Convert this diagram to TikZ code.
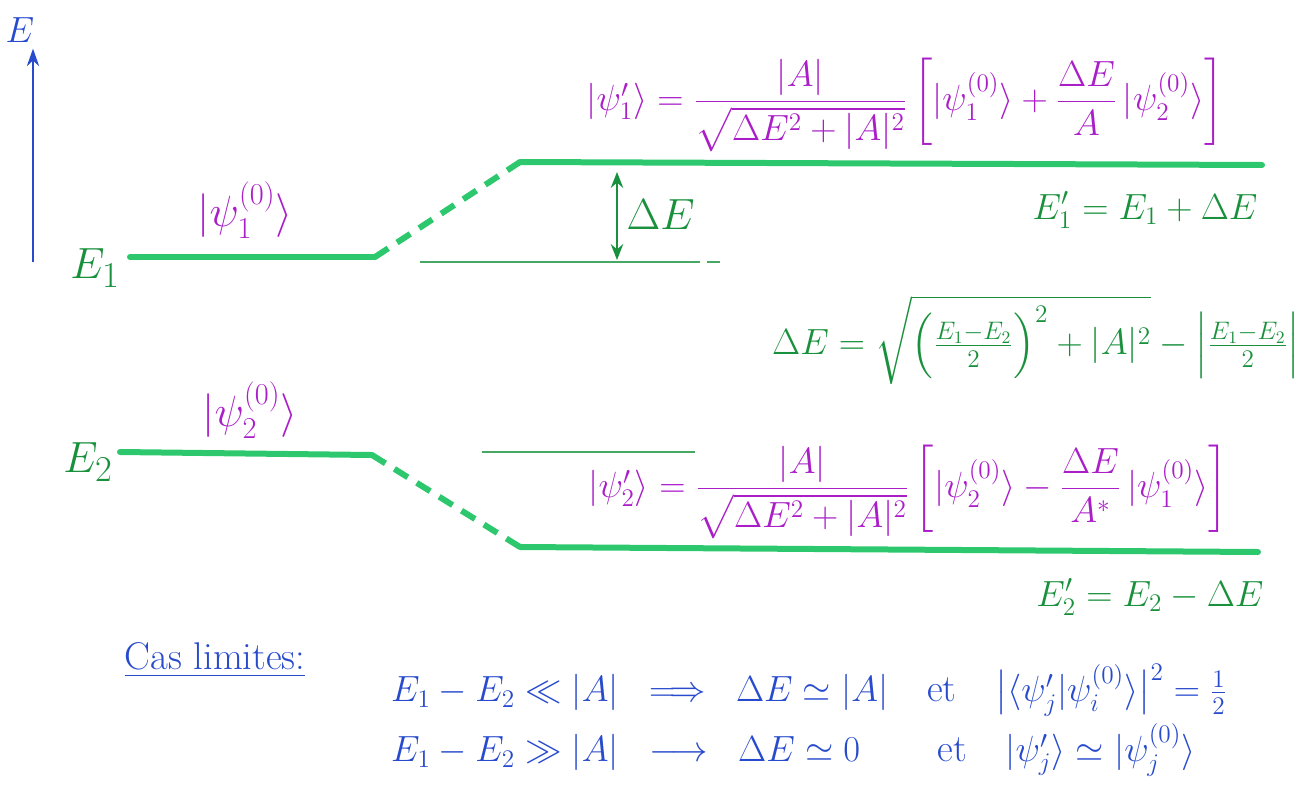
\documentclass[tikz,border=0pt]{standalone}
\usepackage{amsmath}
\usepackage{tikz}
\usetikzlibrary{positioning, arrows.meta}
\definecolor{levelgreen}{RGB}{45, 200, 110}
\definecolor{labelgreen}{RGB}{25, 145, 60}
\definecolor{ketpurple}{RGB}{170, 30, 200}
\definecolor{inkblue}{RGB}{40, 75, 205}

\begin{document}
\begin{tikzpicture}[x=0.02cm, y=-0.02cm,
        level/.style={draw=levelgreen, line width=0.12cm, line cap=round},
        splitline/.style={draw=levelgreen, line width=0.12cm, dash pattern=on 9pt off 6pt},
        guide/.style={draw=labelgreen!80, line width=0.035cm}]
    \useasboundingbox (0,0) rectangle (1302,798);

    % energy axis
    \coordinate (axisfoot) at (33,262);
    \node[text=inkblue, font=\fontsize{20}{24}\selectfont] (axislabel) at (20,30) {$E$};
    \draw[inkblue, line width=0.04cm, -{Stealth[length=10pt,width=7pt]}] (axisfoot) -- (axislabel.south -| axisfoot);

    % unperturbed levels
    \node[text=labelgreen, font=\fontsize{28}{32}\selectfont] (e1) at (95,268) {$E_1$};
    \node[text=labelgreen, font=\fontsize{28}{32}\selectfont] (e2) at (88,462) {$E_2$};
    \coordinate (e1start) at (130,257);
    \coordinate (e1end) at (375,257);
    \coordinate (e2start) at (120,452);
    \coordinate (e2end) at (372,455);
    \draw[level] (e1start) -- (e1end);
    \draw[level] (e2start) -- (e2end);
    \node[text=ketpurple, font=\fontsize{24}{28}\selectfont] (ket1) at (245,210) {$|\psi_1^{(0)}\rangle$};
    \node[text=ketpurple, font=\fontsize{24}{28}\selectfont] (ket2) at (250,410) {$|\psi_2^{(0)}\rangle$};

    % perturbed levels
    \coordinate (up1) at (520,162);
    \coordinate (up2) at (1262,165);
    \coordinate (lo1) at (520,547);
    \coordinate (lo2) at (1258,552);
    \draw[splitline] (e1end) -- (up1);
    \draw[splitline] (e2end) -- (lo1);
    \draw[level] (up1) -- (up2);
    \draw[level] (lo1) -- (lo2);

    % guides at the old energies
    \coordinate (g1a) at (420,262);
    \coordinate (g1b) at (700,262);
    \coordinate (g1c) at (707,262);
    \coordinate (g1d) at (720,262);
    \coordinate (g2a) at (482,452);
    \coordinate (g2b) at (695,452);
    \draw[guide] (g1a) -- (g1b);
    \draw[guide] (g1c) -- (g1d);
    \draw[guide] (g2a) -- (g2b);

    % shift arrow
    \coordinate (shtop) at (617,172);
    \coordinate (shbot) at (617,260);
    \draw[labelgreen, line width=0.05cm, {Stealth[length=9pt,width=7pt]}-{Stealth[length=9pt,width=7pt]}] (shbot) -- (shtop);
    \node[text=labelgreen, font=\fontsize{24}{28}\selectfont, right=2pt of shtop, yshift=-0.85cm] (dlabel) {$\Delta E$};

    % new states
    \node[text=ketpurple, font=\fontsize{20}{24}\selectfont] (ket1new) at (905,105)
        {$|\psi_1'\rangle = \dfrac{|A|}{\sqrt{\Delta E^2+|A|^2}}\left[|\psi_1^{(0)}\rangle + \dfrac{\Delta E}{A}\,|\psi_2^{(0)}\rangle\right]$};
    \node[text=ketpurple, font=\fontsize{20}{24}\selectfont] (ket2new) at (908,492)
        {$|\psi_2'\rangle = \dfrac{|A|}{\sqrt{\Delta E^2+|A|^2}}\left[|\psi_2^{(0)}\rangle - \dfrac{\Delta E}{A^*}\,|\psi_1^{(0)}\rangle\right]$};

    % new energies
    \node[text=labelgreen, font=\fontsize{22}{26}\selectfont] (en1) at (1145,210) {$E_1' = E_1 + \Delta E$};
    \node[text=labelgreen, font=\fontsize{22}{26}\selectfont] (en2) at (1150,597) {$E_2' = E_2 - \Delta E$};
    \node[text=labelgreen, font=\fontsize{20}{24}\selectfont] (deltae) at (1036,340)
        {$\Delta E = \sqrt{\Bigl(\frac{E_1-E_2}{2}\Bigr)^2+|A|^2} - \Bigl|\frac{E_1-E_2}{2}\Bigr|$};

    % limiting cases
    \node[text=inkblue, font=\fontsize{22}{26}\selectfont] (cases) at (215,660) {\underline{Cas limites:}};
    \node[text=inkblue, font=\fontsize{22}{26}\selectfont, anchor=west] (case1) at (385,690)
        {$E_1-E_2 \ll |A| \;\;\Longrightarrow\;\; \Delta E \simeq |A| \quad \text{et} \quad \bigl|\langle\psi_j'|\psi_i^{(0)}\rangle\bigr|^2 = \tfrac{1}{2}$};
    \node[text=inkblue, font=\fontsize{22}{26}\selectfont, anchor=west] (case2) at (385,750)
        {$E_1-E_2 \gg |A| \;\;\longrightarrow\;\; \Delta E \simeq 0 \qquad \text{et} \quad |\psi_j'\rangle \simeq |\psi_j^{(0)}\rangle$};
\end{tikzpicture}
\end{document}
